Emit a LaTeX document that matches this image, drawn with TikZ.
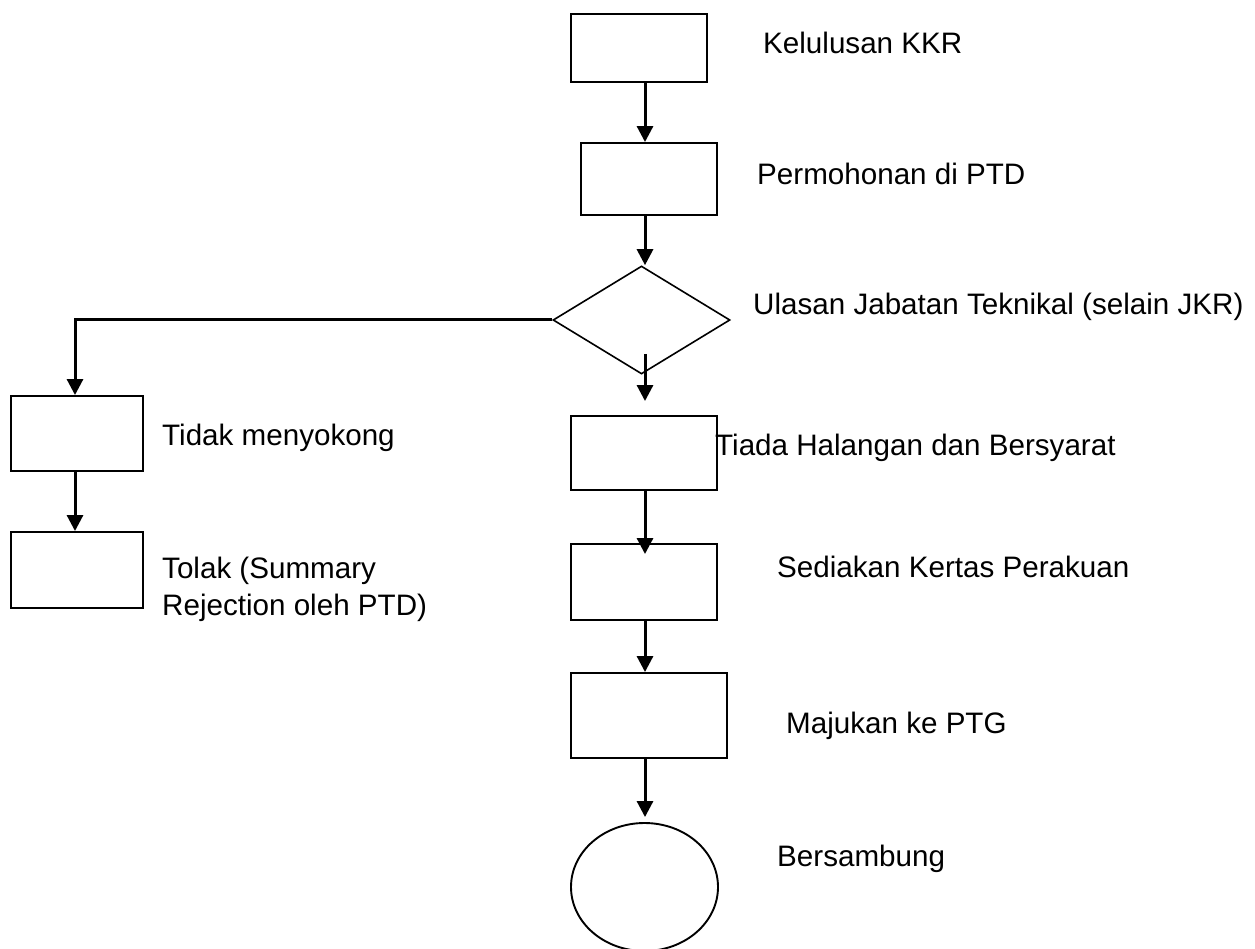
\documentclass[tikz,border=0pt]{standalone}
\usepackage{fontspec}
\setmainfont{Liberation Sans}
\usepackage{tikz}
\usetikzlibrary{arrows.meta,
                shapes.geometric}

\begin{document}
\begin{tikzpicture}[x=1pt, y=-1pt]

\tikzstyle{box}=[rectangle, draw, line width=1.9pt, inner sep=0pt]
\tikzstyle{decision}=[diamond, draw, line width=1.6pt, inner sep=0pt]
\tikzstyle{terminal}=[ellipse, draw, line width=1.9pt, inner sep=0pt]
\tikzstyle{arrow}=[-{Triangle[length=16pt,width=16pt]}, line width=3pt]
\tikzstyle{caption}=[anchor=base west, inner sep=0pt, align=left,
                     font=\fontsize{29.6}{37}\selectfont]

\useasboundingbox (0,0) rectangle (1255,949);

\coordinate (spine) at (645,0);

% main column
\node (kkr)  [box, minimum width=136pt, minimum height=68pt] at (639,48)    {};
\node (ptd)  [box, minimum width=136pt, minimum height=72pt] at (649,179)   {};
\node (ulas) [decision, minimum width=177pt, minimum height=108pt] at (641.5,320) {};
\node (tiada)[box, minimum width=146pt, minimum height=74pt] at (644,453)   {};
\node (sedia)[box, minimum width=146pt, minimum height=76pt] at (644,582)   {};
\node (maju) [box, minimum width=156pt, minimum height=85pt] at (649,715.5) {};
\node (sambung)[terminal, minimum width=147pt, minimum height=128pt] at (644.5,887) {};

% left column
\node (tidak)[box, minimum width=132pt, minimum height=75pt] at (77,433.5) {};
\node (tolak)[box, minimum width=132pt, minimum height=76pt] at (77,570)   {};

% texts
\node (tkkr)   [caption] at (763,54)  {Kelulusan KKR};
\node (tptd)   [caption] at (757,185) {Permohonan di PTD};
\node (tulas)  [caption] at (753,315) {Ulasan Jabatan Teknikal (selain JKR)};
\node (ttiada) [caption] at (715,455) {Tiada Halangan dan Bersyarat};
\node (ttidak) [caption] at (162,445) {Tidak menyokong};
\node (ttolak) [caption] at (162,615) {Tolak (Summary\\Rejection oleh PTD)};
\node (tsedia) [caption] at (777,577) {Sediakan Kertas Perakuan};
\node (tmaju)  [caption] at (786,733) {Majukan ke PTG};
\node (tsamb)  [caption] at (777,866) {Bersambung};

\draw [arrow] (kkr.south -| spine) -- (ptd.north -| spine);
\draw [arrow] (ptd.south -| spine) -- (ulas.north -| spine);
\draw [arrow] ([yshift=21pt]ulas.south -| spine) -- ([yshift=14pt]tiada.north -| spine);
\draw [arrow, shorten >=-11pt] (tiada.south -| spine) -- (sedia.north -| spine);
\draw [arrow] (sedia.south -| spine) -- (maju.north -| spine);
\draw [arrow, shorten >=5pt] (maju.south -| spine) -- (sambung.north -| spine);

\draw [arrow] (ulas.west) -| ([xshift=-2pt]tidak.north);
\draw [arrow] ([xshift=-2pt]tidak.south) -- ([xshift=-2pt]tolak.north);

\end{tikzpicture}
\end{document}
